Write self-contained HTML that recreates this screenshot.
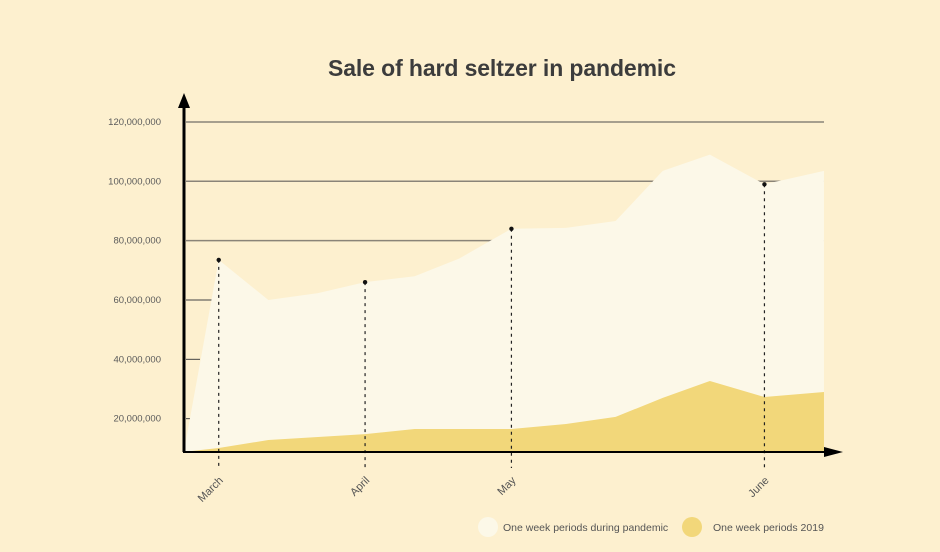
<!DOCTYPE html>
<html><head><meta charset="utf-8"><style>
body{margin:0;background:#fdf0cf;}
svg{display:block;font-family:"Liberation Sans",sans-serif;}
</style></head><body>
<svg id="chart" width="940" height="552" viewBox="0 0 940 552">
<rect width="940" height="552" fill="#fdf0cf"/>
<text x="502" y="76" text-anchor="middle" font-size="23" font-weight="bold" fill="#3c3c3c" textLength="348">Sale of hard seltzer in pandemic</text>
<g id="grid"></g><g id="areas"></g><g id="marks"></g><g id="axes"></g>
<g>
<circle cx="488" cy="527" r="10" fill="#fcf8e8"/>
<text x="503" y="531" font-size="10.5" fill="#555">One week periods during pandemic</text>
<circle cx="692" cy="527" r="10" fill="#f2d77a"/>
<text x="713" y="531" font-size="10.5" fill="#555">One week periods 2019</text>
</g>
</svg>
<script>
const weeks=[0,0.7,1.7,2.7,3.65,4.65,5.55,6.6,7.7,8.7,9.65,10.6,11.7,12.9];
const pandemic=[9,73.5,60,62.3,66,68,74,84,84.3,86.6,103.5,109,99,103.5];
const sales2019=[8.8,10.1,12.8,13.8,14.8,16.5,16.5,16.5,18.2,20.6,27,32.7,27.3,29];
const monthLabels=["March","April","May","June"];
const monthIdx=[1,4,7,12];
const yTicks=[20,40,60,80,100,120];
const yTickLabels=["20,000,000","40,000,000","60,000,000","80,000,000","100,000,000","120,000,000"];
const NS="http://www.w3.org/2000/svg";
const x=w=>184+w*49.61;
const y=v=>478-v*2.967;
const base=452;
function mk(tag,attrs,parent){const e=document.createElementNS(NS,tag);for(const k in attrs)e.setAttribute(k,attrs[k]);document.getElementById(parent).appendChild(e);return e;}
yTicks.forEach((v,i)=>{
  const x2=v>=80?824:(v==60?212:(v==40?200:190));
  const l=mk('line',{x1:186,x2:x2,y1:y(v),y2:y(v),stroke:v>=80?'#8a8478':'#444','stroke-width':v>=80?1.5:1},'grid');
  
  
  const t=mk('text',{x:161,y:y(v)+3,'text-anchor':'end','font-size':9.5,fill:'#5a5a5a'},'grid');
  t.textContent=yTickLabels[i];
  
  
});
function area(vals,fill,name){
  let d='M'+x(weeks[0])+','+base;
  vals.forEach((v,i)=>{d+=' L'+x(weeks[i])+','+y(v);});
  d+=' L'+x(weeks[weeks.length-1])+','+base+' Z';
  const p=mk('path',{d:d,fill:fill},'areas');
  
  
}
area(pandemic,'#fcf8e8','area-pandemic');
area(sales2019,'#f2d77a','area-2019');
monthIdx.forEach((idx,i)=>{
  const cx=x(weeks[idx]),cy=y(pandemic[idx]);
  const l=mk('line',{x1:cx,x2:cx,y1:cy,y2:468,stroke:'#222','stroke-width':1.2,'stroke-dasharray':'3,4'},'marks');
  
  
  const c=mk('circle',{cx:cx,cy:cy,r:2.2,fill:'#111'},'marks');
  
  
  const t=mk('text',{x:cx+5,y:481,'text-anchor':'end','font-size':11,fill:'#555',transform:'rotate(-45 '+(cx+5)+' 481)'},'marks');
  t.textContent=monthLabels[i];
  
  
});
const ya=mk('line',{x1:184,x2:184,y1:452,y2:104,stroke:'#000','stroke-width':3},'axes');


const yh=mk('path',{d:'M178,108 L184,93 L190,108 Z',fill:'#000'},'axes');


const xa=mk('line',{x1:183,x2:828,y1:452,y2:452,stroke:'#000','stroke-width':2},'axes');


const xh=mk('path',{d:'M824,447 L843,452 L824,457 Z',fill:'#000'},'axes');


</script>
</body></html>
